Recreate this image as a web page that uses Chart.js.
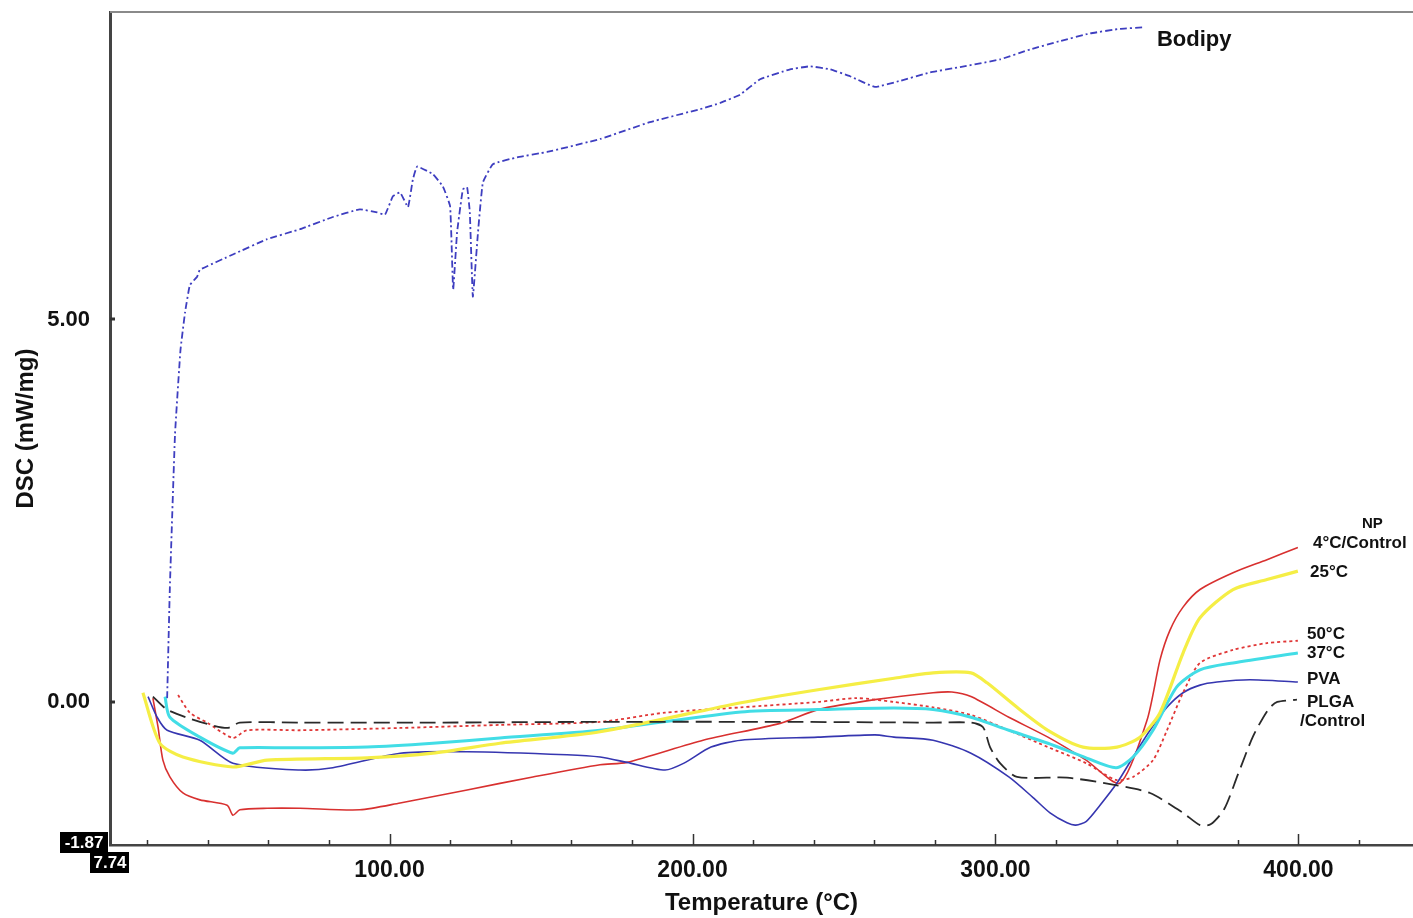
<!DOCTYPE html>
<html>
<head>
<meta charset="utf-8">
<script src="https://cdn.jsdelivr.net/npm/chart.js@4"></script>
<style>
  html, body { margin: 0; padding: 0; background: #fff; }
  #wrap { width: 1413px; height: 918px; }
</style>
</head>
<body>
<div id="wrap"><canvas id="dsc"></canvas></div>
<script>
// axis range
const xMin = 7.74;
const xMax = 437.8;
const yMin = -1.87;
const yMax = 9.02;
const xTickValues = [20, 40, 60, 80, 100, 120, 140, 160, 180, 200, 220, 240, 260, 280, 300, 320, 340, 360, 380, 400, 420];
const yTickValues = [0, 5];

// [temperature, DSC] pairs per curve
const bodipy = [
    [26.6, 0.05], [27.5, 1.5], [29.2, 3.5], [31.0, 4.6], [32.5, 5.09], [34.1, 5.45], [36.5, 5.56],
    [37.4, 5.65], [48.3, 5.85], [59.6, 6.05], [70.4, 6.18], [81.3, 6.34], [90.2, 6.44], [95.9, 6.40],
    [98.5, 6.37], [101.1, 6.61], [103.5, 6.66], [106.1, 6.47], [107.7, 6.83], [109.1, 7.00],
    [114.3, 6.90], [117.6, 6.74], [120.0, 6.48], [121.0, 5.39], [122.3, 6.14], [124.2, 6.70],
    [125.6, 6.73], [126.5, 6.40], [127.5, 5.30], [129.2, 6.14], [130.8, 6.79], [134.1, 7.03],
    [142.1, 7.12], [152.0, 7.19], [169.5, 7.36], [185.9, 7.58], [202.5, 7.75], [209.1, 7.83],
    [215.7, 7.94], [222.3, 8.14], [232.2, 8.27], [238.8, 8.31], [245.4, 8.27], [252.0, 8.18],
    [260.2, 8.04], [268.5, 8.12], [278.4, 8.23], [288.3, 8.30], [301.5, 8.40], [311.4, 8.53],
    [321.3, 8.64], [331.2, 8.74], [341.1, 8.80], [349.3, 8.82]
];
const np4Control = [
    [21.9, 0.05], [23.6, -0.33], [25.2, -0.76], [27.5, -0.98], [31.8, -1.19], [37.4, -1.28],
    [46.4, -1.35], [48.3, -1.48], [50.6, -1.41], [59.6, -1.39], [70.4, -1.39], [90.2, -1.41],
    [103.5, -1.32], [125.6, -1.15], [147.3, -0.98], [169.5, -0.82], [178.4, -0.79], [203.5, -0.50],
    [228.9, -0.28], [241.4, -0.10], [260.2, 0.03], [279.4, 0.12], [285.6, 0.13], [291.9, 0.07],
    [304.4, -0.20], [317.3, -0.46], [329.9, -0.76], [341.1, -1.06], [350.0, -0.24], [354.3, 0.55],
    [357.6, 0.94], [361.9, 1.24], [367.5, 1.47], [378.4, 1.69], [389.6, 1.86], [399.8, 2.02]
];
const np25 = [
    [18.6, 0.12], [24.2, -0.54], [31.8, -0.72], [48.3, -0.85], [59.6, -0.76], [92.6, -0.73],
    [114.3, -0.67], [136.4, -0.54], [169.5, -0.39], [216.0, -0.01], [241.4, 0.16], [266.5, 0.31],
    [279.4, 0.38], [291.9, 0.38], [297.2, 0.25], [307.1, -0.07], [317.3, -0.37], [328.9, -0.59],
    [340.1, -0.59], [347.7, -0.46], [354.3, -0.14], [361.9, 0.64], [367.5, 1.10], [378.4, 1.47],
    [389.6, 1.60], [399.8, 1.71]
];
const np50 = [
    [30.2, 0.09], [34.1, -0.14], [39.8, -0.27], [48.3, -0.47], [52.9, -0.37], [70.4, -0.37],
    [103.5, -0.34], [136.4, -0.30], [169.5, -0.26], [190.9, -0.14], [216.0, -0.07], [241.4, 0.0],
    [254.0, 0.05], [266.5, 0.0], [279.4, -0.07], [291.9, -0.17], [304.4, -0.37], [317.3, -0.59],
    [329.9, -0.80], [339.8, -1.02], [345.4, -0.98], [352.0, -0.76], [356.6, -0.37], [361.9, 0.12],
    [367.5, 0.51], [378.4, 0.68], [389.6, 0.77], [399.8, 0.80]
];
const np37 = [
    [25.9, 0.07], [27.5, -0.20], [37.4, -0.46], [48.3, -0.67], [50.6, -0.60], [70.4, -0.60],
    [92.6, -0.59], [114.3, -0.54], [136.4, -0.47], [169.5, -0.37], [216.0, -0.13], [241.4, -0.10],
    [266.5, -0.08], [279.4, -0.10], [291.9, -0.20], [304.4, -0.37], [317.3, -0.54], [329.9, -0.73],
    [339.8, -0.86], [345.4, -0.72], [352.0, -0.37], [359.9, 0.20], [367.5, 0.42], [378.4, 0.51],
    [399.8, 0.64]
];
const pva = [
    [20.3, 0.07], [23.3, -0.20], [26.6, -0.37], [37.4, -0.50], [48.3, -0.80], [70.4, -0.89],
    [81.3, -0.86], [103.5, -0.67], [125.6, -0.65], [158.6, -0.69], [169.5, -0.72], [178.4, -0.79],
    [190.9, -0.89], [197.2, -0.80], [206.1, -0.59], [216.0, -0.50], [241.4, -0.46], [260.2, -0.43],
    [266.5, -0.46], [279.4, -0.50], [291.9, -0.67], [304.4, -0.98], [312.4, -1.25], [318.0, -1.45],
    [323.6, -1.58], [326.5, -1.61], [330.0, -1.56], [334.5, -1.35], [340.1, -1.06], [345.4, -0.72],
    [351.0, -0.37], [356.6, -0.07], [361.9, 0.12], [367.5, 0.22], [373.1, 0.26], [384.0, 0.29],
    [399.8, 0.26]
];
const plgaControl = [
    [21.9, 0.07], [26.6, -0.10], [37.4, -0.26], [46.4, -0.34], [50.6, -0.27], [70.4, -0.27],
    [114.3, -0.27], [169.5, -0.26], [228.9, -0.26], [279.4, -0.27], [291.9, -0.27], [295.9, -0.33],
    [298.2, -0.59], [301.5, -0.80], [307.1, -0.98], [323.6, -0.99], [340.1, -1.09], [351.0, -1.19],
    [361.9, -1.45], [367.5, -1.61], [371.0, -1.60], [375.5, -1.40], [380.0, -0.95], [385.0, -0.45],
    [390.0, -0.10], [393.0, 0.0], [399.5, 0.03]
];

const FONT = "'Liberation Sans', Arial, sans-serif";

// curve names written next to the line ends (temperature, DSC anchor)
const curveLabels = [
    { text: 'Bodipy', x: 353.3, y: 8.66, size: 22, align: 'left' },
    { text: 'NP', x: 424.4, y: 2.33, size: 15, align: 'center' },
    { text: '4°C/Control', x: 404.8, y: 2.08, size: 17, align: 'left' },
    { text: '25°C', x: 403.8, y: 1.69, size: 17, align: 'left' },
    { text: '50°C', x: 402.8, y: 0.89, size: 17, align: 'left' },
    { text: '37°C', x: 402.8, y: 0.64, size: 17, align: 'left' },
    { text: 'PVA', x: 402.8, y: 0.29, size: 17, align: 'left' },
    { text: 'PLGA', x: 402.8, y: 0.0, size: 17, align: 'left' },
    { text: '/Control', x: 400.5, y: -0.25, size: 17, align: 'left' }
];

function toPoints(pairs) {
    return pairs.map((p) => ({ x: p[0], y: p[1] }));
}

function curve(label, pairs, color, width, dash, tension) {
    return {
        label,
        data: toPoints(pairs),
        borderColor: color,
        borderWidth: width,
        borderDash: dash,
        pointRadius: 0,
        showLine: true,
        fill: false,
        tension
    };
}

const frameDecor = {
    id: 'frameDecor',
    afterDraw(chart) {
        const { ctx, chartArea: a, scales } = chart;
        const x = scales.x;
        const y = scales.y;
        ctx.save();

        // top frame line
        ctx.strokeStyle = '#8a8a8a';
        ctx.lineWidth = 2;
        ctx.beginPath();
        ctx.moveTo(a.left, a.top);
        ctx.lineTo(a.right, a.top);
        ctx.stroke();

        // inward tick marks
        ctx.strokeStyle = '#333';
        ctx.lineWidth = 1.5;
        xTickValues.forEach((v) => {
            const px = Math.round(x.getPixelForValue(v)) + 0.5;
            const len = v % 100 === 0 ? 11 : 5;
            ctx.beginPath();
            ctx.moveTo(px, a.bottom);
            ctx.lineTo(px, a.bottom - len);
            ctx.stroke();
        });
        ctx.lineWidth = 3;
        yTickValues.forEach((v) => {
            const py = Math.round(y.getPixelForValue(v));
            ctx.beginPath();
            ctx.moveTo(a.left, py);
            ctx.lineTo(a.left + 5, py);
            ctx.stroke();
        });

        // boxed range limits at the origin corner
        ctx.font = `bold 17px ${FONT}`;
        ctx.textBaseline = 'middle';
        ctx.textAlign = 'center';
        ctx.fillStyle = '#000';
        ctx.fillRect(a.left - 50, a.bottom - 13, 48, 21);
        ctx.fillRect(a.left - 20, a.bottom + 7, 39, 21);
        ctx.fillStyle = '#fff';
        ctx.fillText(yMin.toFixed(2), a.left - 26, a.bottom - 2);
        ctx.fillText(xMin.toFixed(2), a.left, a.bottom + 18);

        // curve names
        ctx.fillStyle = '#111';
        curveLabels.forEach((l) => {
            ctx.font = `bold ${l.size}px ${FONT}`;
            ctx.textAlign = l.align;
            ctx.fillText(l.text, x.getPixelForValue(l.x), y.getPixelForValue(l.y));
        });

        ctx.restore();
    }
};

new Chart(document.getElementById('dsc').getContext('2d'), {
    type: 'scatter',
    data: {
        datasets: [
            curve('Bodipy', bodipy, '#3e3ec0', 1.8, [7, 3, 2, 3], 0.1),
            curve('PLGA/Control', plgaControl, '#2a2a2a', 1.8, [16, 7], 0.25),
            curve('25°C', np25, '#f5ee45', 3.2, [], 0.25),
            curve('37°C', np37, '#42dde6', 3, [], 0.25),
            curve('50°C', np50, '#e03636', 1.8, [3, 3], 0.25),
            curve('PVA', pva, '#3636b0', 1.6, [], 0.25),
            curve('NP 4°C/Control', np4Control, '#d8302f', 1.6, [], 0.25)
        ]
    },
    options: {
        responsive: true,
        maintainAspectRatio: false,
        animation: false,
        layout: { padding: { top: 12, right: 0, bottom: 0, left: 0 } },
        plugins: {
            legend: { display: false },
            tooltip: { enabled: false }
        },
        scales: {
            x: {
                type: 'linear',
                min: xMin,
                max: xMax,
                afterBuildTicks(scale) {
                    scale.ticks = xTickValues.map((v) => ({ value: v }));
                },
                afterFit(scale) {
                    scale.height = 73;
                    scale.paddingLeft = 0;
                    scale.paddingRight = 0;
                },
                grid: { display: false, drawTicks: false },
                border: { display: true, color: '#444', width: 2.5 },
                ticks: {
                    autoSkip: false,
                    maxRotation: 0,
                    padding: 12,
                    color: '#111',
                    font: { family: FONT, size: 23, weight: 'bold' },
                    callback: (v) => (v % 100 === 0 ? Number(v).toFixed(2) : '')
                },
                title: {
                    display: true,
                    text: 'Temperature (°C)',
                    color: '#111',
                    font: { family: FONT, size: 24, weight: 'bold' },
                    padding: { top: 0, bottom: 0 }
                }
            },
            y: {
                type: 'linear',
                min: yMin,
                max: yMax,
                afterBuildTicks(scale) {
                    scale.ticks = yTickValues.map((v) => ({ value: v }));
                },
                afterFit(scale) {
                    scale.width = 110;
                    scale.paddingTop = 0;
                    scale.paddingBottom = 0;
                },
                grid: { display: false, drawTicks: false },
                border: { display: true, color: '#444', width: 3 },
                ticks: {
                    padding: 20,
                    color: '#111',
                    font: { family: FONT, size: 22, weight: 'bold' },
                    callback: (v) => Number(v).toFixed(2)
                },
                title: {
                    display: true,
                    text: 'DSC (mW/mg)',
                    color: '#111',
                    font: { family: FONT, size: 24, weight: 'bold' },
                    padding: { top: 12, bottom: 0 }
                }
            }
        }
    },
    plugins: [frameDecor]
});
</script>
</body>
</html>
